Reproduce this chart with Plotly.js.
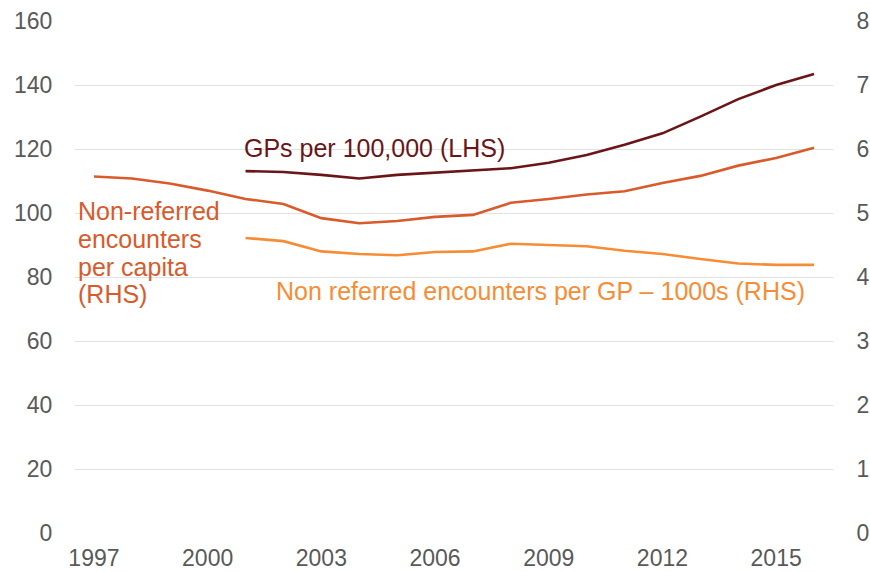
<!DOCTYPE html>
<html>
<head>
<meta charset="utf-8">
<script src="https://cdn.plot.ly/plotly-3.0.1.min.js"></script>
<style>html,body{margin:0;padding:0;background:#fff;}#chart{width:870px;height:572px;}</style>
</head>
<body>
<div id="chart"></div>
<script>
var years = [1997,1998,1999,2000,2001,2002,2003,2004,2005,2006,2007,2008,2009,2010,2011,2012,2013,2014,2015,2016];
var gpYears = [2001,2002,2003,2004,2005,2006,2007,2008,2009,2010,2011,2012,2013,2014,2015,2016];
var gpsPer100k = [113.1,112.8,111.9,110.8,111.9,112.6,113.1,114.0,115.7,118.1,121.3,124.9,130.1,135.6,140.0,143.4];
var encountersPerCapita = [5.57,5.54,5.46,5.35,5.22,5.14,4.92,4.84,4.875,4.94,4.97,5.16,5.22,5.29,5.34,5.47,5.58,5.74,5.86,6.02];
var encountersPerGP = [4.61,4.56,4.40,4.36,4.34,4.39,4.40,4.52,4.50,4.48,4.41,4.36,4.28,4.21,4.19,4.19];
var leftTicks = [0,20,40,60,80,100,120,140,160];
var rightTicks = [0,1,2,3,4,5,6,7,8];
var xTicks = [1997,2000,2003,2006,2009,2012,2015];

var cMaroon = '#6b1518';
var cRed = '#d95a2b';
var cOrange = '#f68d36';
var font = 'Liberation Sans, Arial, Helvetica, sans-serif';

var traces = [
  {x: gpYears, y: gpsPer100k, mode: 'lines', line: {color: cMaroon, width: 2.6}, yaxis: 'y', hoverinfo: 'skip'},
  {x: years, y: encountersPerCapita, mode: 'lines', line: {color: cRed, width: 2.6}, yaxis: 'y2', hoverinfo: 'skip'},
  {x: gpYears, y: encountersPerGP, mode: 'lines', line: {color: cOrange, width: 2.6}, yaxis: 'y2', hoverinfo: 'skip'}
];

function px(x){ return (x - 75) / 758; }
function py(y){ return (533 - y) / 512; }

var annots = [
  {text: 'GPs per 100,000 (LHS)', x: px(242), y: py(148), color: cMaroon},
  {text: 'Non-referred', x: px(76), y: py(211), color: cRed},
  {text: 'encounters', x: px(76), y: py(239), color: cRed},
  {text: 'per capita', x: px(76), y: py(267), color: cRed},
  {text: '(RHS)', x: px(76), y: py(294), color: cRed},
  {text: 'Non referred encounters per GP \u2013 1000s (RHS)', x: px(274), y: py(291), color: cOrange}
].map(function(a){
  return {text: a.text, xref: 'paper', yref: 'paper', x: a.x, y: a.y, xanchor: 'left', yanchor: 'middle',
          showarrow: false, font: {family: font, size: 25, color: a.color}};
});

var layout = {
  width: 870, height: 572,
  margin: {l: 75, r: 37, t: 21, b: 39, pad: 0},
  paper_bgcolor: '#fff', plot_bgcolor: '#fff',
  showlegend: false,
  font: {family: font, size: 23, color: '#595959'},
  xaxis: {
    range: [1996.5, 2016.5], tickvals: xTicks, ticktext: xTicks.map(String),
    showgrid: false, zeroline: false, showline: false,
    ticks: 'outside', ticklen: 4, tickcolor: 'rgba(0,0,0,0)',
    tickfont: {family: font, size: 23, color: '#595959'}
  },
  yaxis: {
    range: [0, 160], tickvals: leftTicks, ticktext: leftTicks.map(String),
    showgrid: true, gridcolor: '#e2e2e2', gridwidth: 1,
    zeroline: false, showline: false,
    ticks: 'outside', ticklen: 17, tickcolor: 'rgba(0,0,0,0)',
    tickfont: {family: font, size: 23, color: '#595959'}
  },
  yaxis2: {
    range: [0, 8], tickvals: rightTicks, ticktext: rightTicks.map(String),
    overlaying: 'y', side: 'right',
    showgrid: false, zeroline: false, showline: false,
    ticks: 'outside', ticklen: 18, tickcolor: 'rgba(0,0,0,0)',
    tickfont: {family: font, size: 23, color: '#595959'}
  },
  annotations: annots
};

Plotly.newPlot('chart', traces, layout, {staticPlot: true, displayModeBar: false});
</script>
</body>
</html>
